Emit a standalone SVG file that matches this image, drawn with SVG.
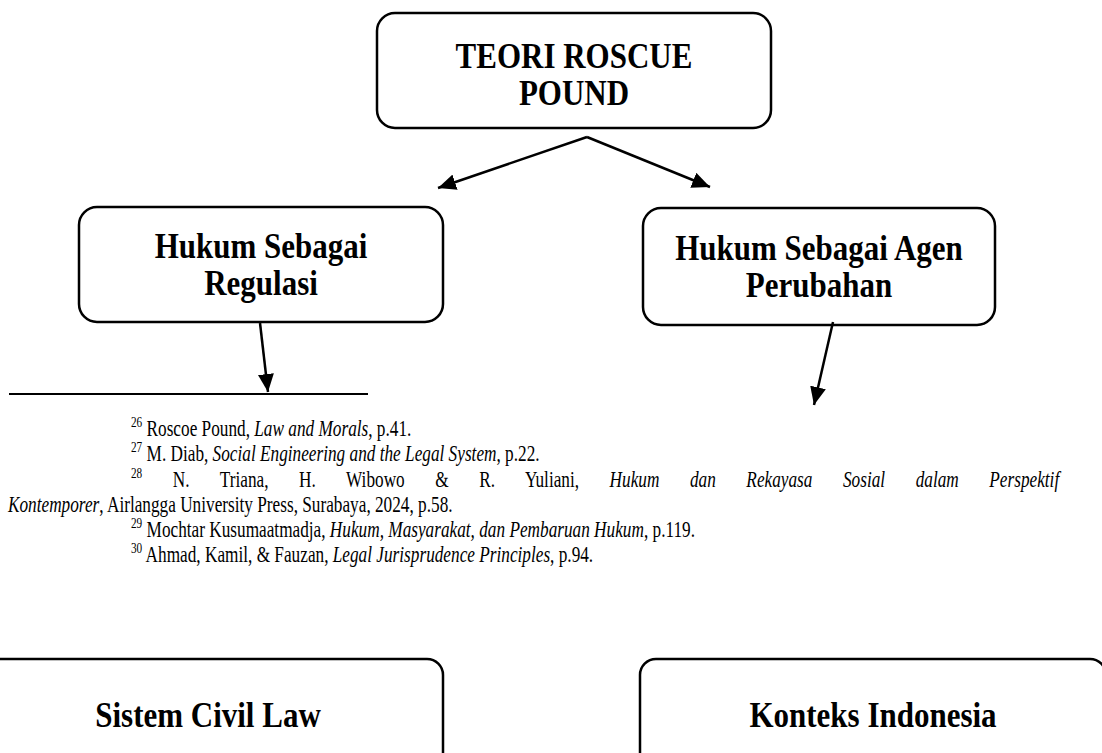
<svg xmlns="http://www.w3.org/2000/svg" width="1102" height="753" viewBox="0 0 1102 753">
<defs>
<style>
.box{fill:#fff;stroke:#000;stroke-width:2.5}
.h{font-family:"Liberation Serif","Times New Roman",serif;font-weight:bold;font-size:31px;fill:#000;text-anchor:middle}
.fn{font-family:"Liberation Serif","Times New Roman",serif;font-size:23px;fill:#000}
.sup{font-size:15px}
.it{font-style:italic}
.conn{stroke:#000;stroke-width:2.5;fill:none;marker-end:url(#ah)}
.rule{stroke:#000;stroke-width:2}
</style>
<marker id="ah" markerUnits="userSpaceOnUse" markerWidth="20" markerHeight="16" refX="18" refY="8" orient="auto"><path d="M0,0 L18,8 L0,16 Z" fill="#000"/></marker>
</defs>
<rect width="1102" height="753" fill="#fff"/>
<g id="n-top"><rect class="box" x="377" y="13" width="394" height="115" rx="18"/>
<text class="h" transform="translate(574,68) scale(1,1.15)">TEORI ROSCUE</text><text class="h" transform="translate(574,105) scale(1,1.15)">POUND</text></g>
<g id="n-regulasi"><rect class="box" x="79" y="207" width="364" height="115" rx="18"/>
<text class="h" transform="translate(261,258) scale(1,1.15)">Hukum Sebagai</text><text class="h" transform="translate(261,295) scale(1,1.15)">Regulasi</text></g>
<g id="n-agen"><rect class="box" x="643" y="208" width="352" height="117" rx="18"/>
<text class="h" transform="translate(819,260) scale(1,1.15)">Hukum Sebagai Agen</text><text class="h" transform="translate(819,297) scale(1,1.15)">Perubahan</text></g>
<g id="n-civil"><rect class="box" x="-27" y="659" width="470" height="130" rx="16"/>
<text class="h" transform="translate(208,727) scale(1,1.15)">Sistem Civil Law</text></g>
<g id="n-indonesia"><rect class="box" x="640" y="659" width="466" height="130" rx="16"/>
<text class="h" transform="translate(873,727) scale(1,1.15)">Konteks Indonesia</text></g>
<g id="connectors">
<path class="conn" d="M587,137 L438,188"/>
<path class="conn" d="M587,137 L710,187"/>
<path class="conn" d="M260,323 L268,392"/>
<path class="conn" d="M833,322 L814,405"/>
</g>
<g id="footnotes">
<line class="rule" x1="9" y1="394" x2="368" y2="394"/>
<text class="fn" transform="translate(131,436) scale(0.75,1)"><tspan class="sup" dy="-9">26</tspan><tspan dy="9"> Roscoe Pound, </tspan><tspan class="it">Law and Morals</tspan><tspan>, p.41.</tspan></text>
<text class="fn" transform="translate(131,461) scale(0.75,1)"><tspan class="sup" dy="-9">27</tspan><tspan dy="9"> M. Diab, </tspan><tspan class="it">Social Engineering and the Legal System</tspan><tspan>, p.22.</tspan></text>
<text class="fn" transform="translate(131,487) scale(0.75,1)" word-spacing="35"><tspan class="sup" dy="-9">28</tspan><tspan dy="9"> N. Triana, H. Wibowo &amp; R. Yuliani, </tspan><tspan class="it">Hukum dan Rekayasa Sosial dalam Perspektif</tspan></text>
<text class="fn" transform="translate(8,512) scale(0.75,1)"><tspan class="it">Kontemporer</tspan><tspan>, Airlangga University Press, Surabaya, 2024, p.58.</tspan></text>
<text class="fn" transform="translate(131,537) scale(0.75,1)"><tspan class="sup" dy="-9">29</tspan><tspan dy="9"> Mochtar Kusumaatmadja, </tspan><tspan class="it">Hukum, Masyarakat, dan Pembaruan Hukum</tspan><tspan>, p.119.</tspan></text>
<text class="fn" transform="translate(131,562) scale(0.75,1)"><tspan class="sup" dy="-9">30</tspan><tspan dy="9"> Ahmad, Kamil, &amp; Fauzan, </tspan><tspan class="it">Legal Jurisprudence Principles</tspan><tspan>, p.94.</tspan></text>
</g>
</svg>
